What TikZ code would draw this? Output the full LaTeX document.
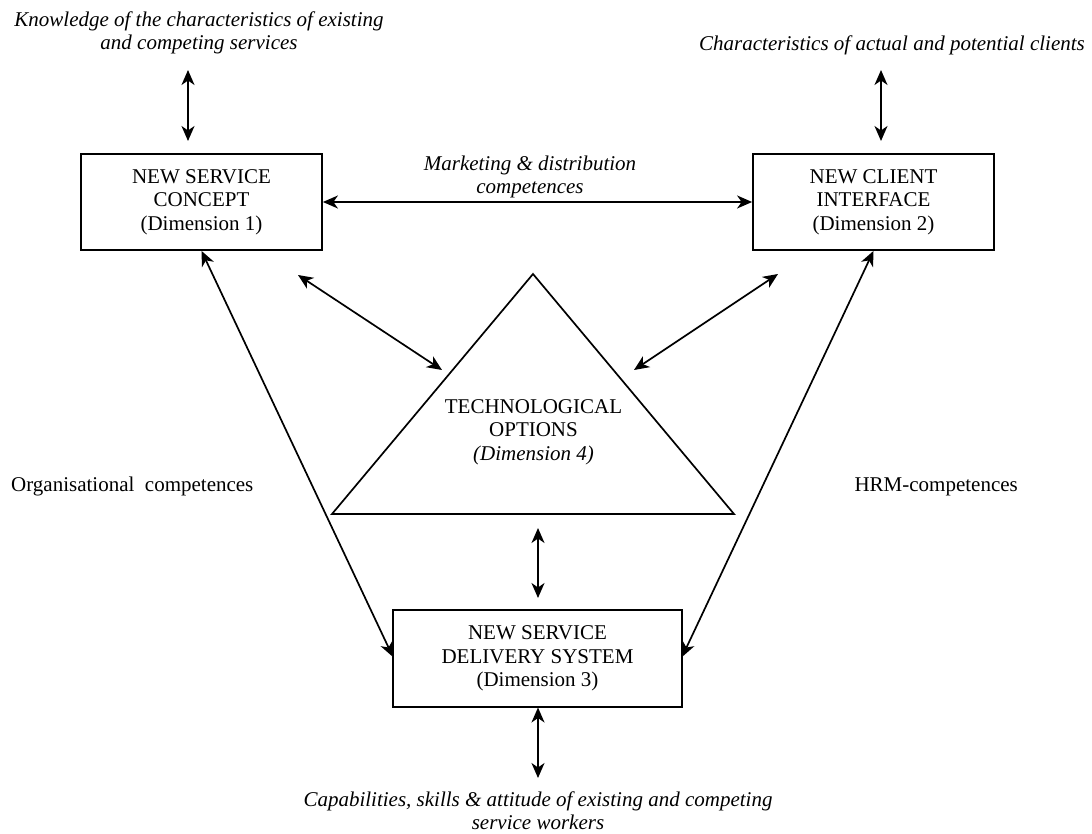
\documentclass[tikz,border=0pt]{standalone}
\usepackage{fontspec}
\setmainfont{Liberation Serif}
\usetikzlibrary{arrows.meta}
\begin{document}
\begin{tikzpicture}[x=1pt,y=-1pt,
  every node/.style={font=\fontsize{21}{23.5}\selectfont, inner sep=0pt},
  dimbox/.style={draw, line width=1.8pt, minimum width=241pt, minimum height=96pt, align=center},
  lbl/.style={align=center, font=\fontsize{21}{23}\selectfont\itshape},
  conn/.style={line width=1.7pt, {Stealth[length=15pt,width=13pt,inset=4.5pt]}-{Stealth[length=15pt,width=13pt,inset=4.5pt]}},
  edge/.style={line width=1.7pt, line join=miter}
]
\useasboundingbox (0,0) rectangle (1092,834);

% boxes
\node[dimbox] (b1) at (201.5,202) {NEW SERVICE\\CONCEPT\\(Dimension 1)};
\node[dimbox] (b2) at (873.5,202) {NEW CLIENT\\INTERFACE\\(Dimension 2)};
\node[dimbox, minimum width=289pt, minimum height=97pt] (b3) at (537.5,658.5) {NEW SERVICE\\DELIVERY SYSTEM\\(Dimension 3)};

% triangle
\coordinate (tA) at (533,274);
\coordinate (tL) at (332,514);
\coordinate (tR) at (734,514);
\draw[edge] (tA) -- (tL) -- (tR) -- cycle;
\node[align=center] (tt) at (533.5,432) {TECHNOLOGICAL\\OPTIONS\\\textit{(Dimension 4)}};

% labels
\node[lbl] (l1) at (199,33) {Knowledge of the characteristics of existing\\and competing services};
\node[lbl, anchor=base] (l2) at (892,51) {Characteristics of actual and potential clients};
\node[lbl] (l3) at (530,176.5) {Marketing \& distribution\\competences};
\node[lbl] (l4) at (538,811) {Capabilities, skills \& attitude of existing and competing\\service workers};
\node[anchor=base west] (l5) at (11,491) {Organisational\ \ competences};
\node[anchor=base east] (l6) at (1018,491) {HRM-competences};

% connector end points
\coordinate (a1t) at (188,70);  \coordinate (a1b) at (188,141);
\coordinate (a2t) at (881,70);  \coordinate (a2b) at (881,141);
\coordinate (m1t) at (538,528); \coordinate (m1b) at (538,598);
\coordinate (bt) at (538,707.5); \coordinate (bb) at (538,778);
\coordinate (d1a) at (298,275); \coordinate (d1b) at (442,370);
\coordinate (d2a) at (778,274); \coordinate (d2b) at (634,370);
\coordinate (g1b) at (393,657);
\coordinate (g2b) at (682,657);

\draw[conn] (a1t) -- (a1b);
\draw[conn] (a2t) -- (a2b);
\draw[conn] (b1.east) -- (b2.west);
\draw[conn] (d1a) -- (d1b);
\draw[conn] (d2a) -- (d2b);
\draw[conn] (m1t) -- (m1b);
\draw[conn] (bt) -- (bb);
\draw[conn] (b1.south) -- (g1b);
\draw[conn] (b2.south) -- (g2b);
\end{tikzpicture}
\end{document}
